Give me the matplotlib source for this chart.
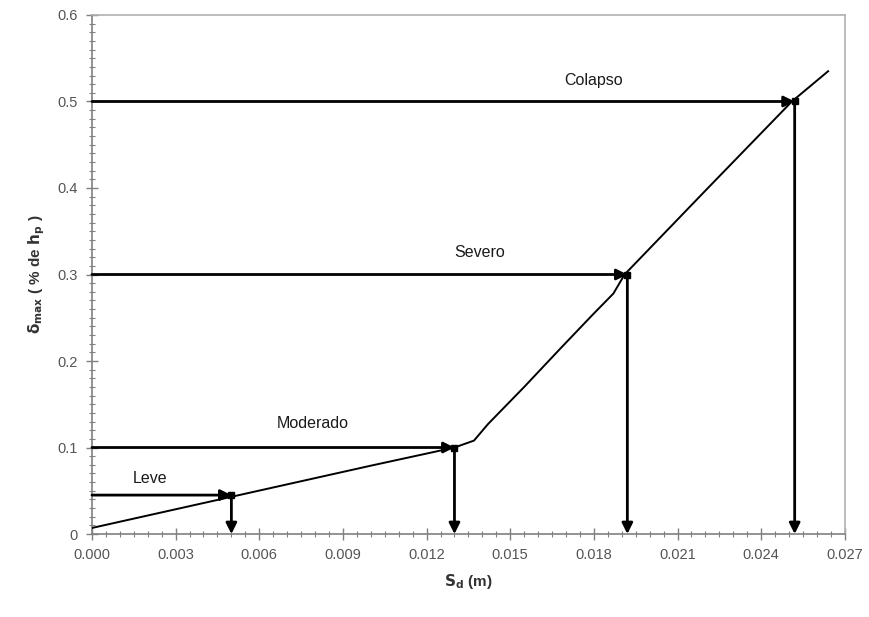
import matplotlib.pyplot as plt
from matplotlib.ticker import MultipleLocator

plt.rcParams['font.family'] = ['Liberation Sans', 'DejaVu Sans']

# capacity curve: spectral displacement vs. max drift
sd_curve = [0.0, 0.0050, 0.0100, 0.0130, 0.0137, 0.0142, 0.0155, 0.0168,
            0.0180, 0.0187, 0.0191, 0.0220, 0.0251, 0.0264]
drift_curve = [0.007, 0.043, 0.079, 0.100, 0.108, 0.127, 0.170, 0.2145,
               0.255, 0.278, 0.300, 0.397, 0.500, 0.535]

# damage states
states = ['Leve', 'Moderado', 'Severo', 'Colapso']
sd_state = [0.0050, 0.0130, 0.0192, 0.0252]
drift_state = [0.045, 0.100, 0.300, 0.500]
label_sd = [0.0021, 0.0079, 0.0139, 0.0180]
label_drift = [0.064, 0.128, 0.325, 0.524]

fig = plt.figure(figsize=(8.7, 6.17), dpi=100)
ax = fig.add_axes([0.1057, 0.1345, 0.8654, 0.8412])

ax.plot(sd_curve, drift_curve, color='black', lw=1.4, zorder=3)

arrow = dict(arrowstyle='-|>', color='black', lw=2, mutation_scale=16,
             shrinkA=0, shrinkB=0)
for name, sd, dr, lx, ly in zip(states, sd_state, drift_state, label_sd, label_drift):
    ax.annotate('', xy=(sd, dr), xytext=(0.0, dr), arrowprops=arrow, zorder=4)
    ax.annotate('', xy=(sd, 0.0), xytext=(sd, dr), arrowprops=arrow, zorder=4)
    ax.text(lx, ly, name, ha='center', va='center', fontsize=11.5,
            color='#1a1a1a')
ax.plot(sd_state, drift_state, 's', color='black', ms=5, zorder=5)

ax.set_xlim(0, 0.027)
ax.set_ylim(0, 0.6)
ax.xaxis.set_major_locator(MultipleLocator(0.003))
ax.xaxis.set_minor_locator(MultipleLocator(0.0005))
ax.yaxis.set_major_locator(MultipleLocator(0.1))
ax.yaxis.set_minor_locator(MultipleLocator(0.01))
ax.set_xticklabels([f'{v:.3f}' for v in ax.get_xticks()])
ax.set_yticklabels(['0' if v == 0 else f'{v:.1f}' for v in ax.get_yticks()])

for side in ['left', 'bottom']:
    ax.spines[side].set_color('#808080')
    ax.spines[side].set_linewidth(1.2)
for side in ['top', 'right']:
    ax.spines[side].set_color('#b0b0b0')
    ax.spines[side].set_linewidth(1.2)

ax.tick_params(which='major', direction='inout', length=8, width=1,
               color='#808080', labelsize=10.5, labelcolor='#555555', pad=6)
ax.tick_params(which='minor', direction='inout', length=4, width=0.8,
               color='#808080')

ax.set_xlabel(r'$\mathbf{S_d}$ (m)', fontsize=11, fontweight='bold',
              color='#333333', labelpad=7)
ax.set_ylabel(r'$\mathbf{\delta_{max}}$ ( % de $\mathbf{h_p}$ )', fontsize=11,
              fontweight='bold', color='#333333', labelpad=8)

fig.savefig('out.png', dpi=100)
